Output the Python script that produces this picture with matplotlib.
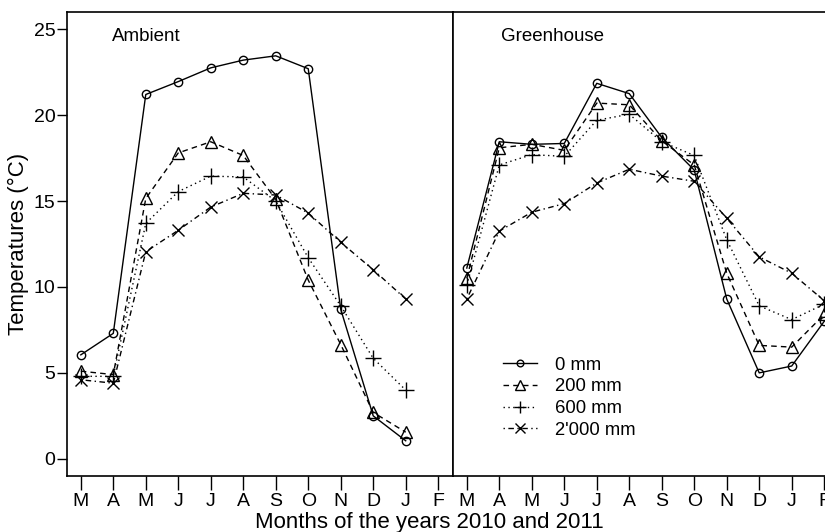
import numpy as np
import matplotlib.pyplot as plt

plt.rcParams['font.family'] = ['Liberation Sans', 'DejaVu Sans']

# months (March 2010 - February 2011)
months = ['M', 'A', 'M', 'J', 'J', 'A', 'S', 'O', 'N', 'D', 'J', 'F']
series_names = ['0 mm', '200 mm', '600 mm', "2'000 mm"]

# Ambient: March .. January (11 values)
amb_0 = [6.05, 7.3, 21.2, 21.95, 22.75, 23.2, 23.45, 22.7, 8.7, 2.5, 1.05]
amb_200 = [5.1, 4.9, 15.15, 17.8, 18.45, 17.65, 15.1, 10.4, 6.65, 2.7, 1.55]
amb_600 = [4.8, 4.8, 13.7, 15.55, 16.45, 16.4, 15.0, 11.7, 8.9, 5.85, 4.0]
amb_2000 = [4.6, 4.4, 12.05, 13.3, 14.65, 15.45, 15.35, 14.3, 12.6, 11.0, 9.3]

# Greenhouse: March .. February (12 values)
gh_0 = [11.1, 18.45, 18.3, 18.35, 21.85, 21.25, 18.7, 16.8, 9.3, 5.0, 5.4, 8.0]
gh_200 = [10.5, 18.1, 18.3, 17.95, 20.7, 20.6, 18.5, 17.1, 10.8, 6.6, 6.5, 8.4]
gh_600 = [10.1, 17.1, 17.7, 17.6, 19.7, 20.05, 18.45, 17.65, 12.75, 8.9, 8.1, 9.0]
gh_2000 = [9.3, 13.25, 14.35, 14.85, 16.05, 16.85, 16.45, 16.15, 14.0, 11.75, 10.8, 9.2]

styles = [
    dict(ls='-', marker='o', ms=6),
    dict(ls=(0, (4, 3)), marker='^', ms=9),
    dict(ls=(0, (1, 2.5)), marker='+', ms=11),
    dict(ls=(0, (1, 2.5, 4, 2.5)), marker='x', ms=9),
]

fig = plt.figure(figsize=(8.25, 5.32), dpi=100)
w = (452.5 - 66.5) / 825
ax1 = fig.add_axes([66.5 / 825, 56 / 532, w, 464 / 532])
ax2 = fig.add_axes([452.5 / 825, 56 / 532, w, 464 / 532])

x = np.arange(1, 13)

for ax, data in [(ax1, [amb_0, amb_200, amb_600, amb_2000]),
                 (ax2, [gh_0, gh_200, gh_600, gh_2000])]:
    for vals, st, name in zip(data, styles, series_names):
        ax.plot(x[:len(vals)], vals, color='black', lw=1.0, ls=st['ls'],
                marker=st['marker'], ms=st['ms'], mfc='none', mec='black',
                mew=1.0, label=name)
    ax.set_xlim(0.56, 12.44)
    ax.set_ylim(-1, 26)
    ax.set_xticks(x)
    ax.set_xticklabels(months, fontsize=14)
    ax.tick_params(axis='x', length=10, width=1, pad=2, direction='out')
    for s in ax.spines.values():
        s.set_linewidth(1.2)

ax1.set_yticks([0, 5, 10, 15, 20, 25])
ax1.tick_params(axis='y', length=7, width=1, labelsize=14, pad=1)
ax1.set_ylabel('Temperatures (°C)', fontsize=16, labelpad=3)
ax2.tick_params(axis='y', left=False, labelleft=False)

ax1.text(1.97, 24.6, 'Ambient', fontsize=13.5, va='center', ha='left')
ax2.text(2.05, 24.6, 'Greenhouse', fontsize=13.5, va='center', ha='left')

leg = ax2.legend(loc='upper left', bbox_to_anchor=(0.131, 0.257), frameon=False,
                 fontsize=13.3, handlelength=1.85, handletextpad=0.95,
                 labelspacing=0.25, borderaxespad=0, borderpad=0,
                 markerscale=0.8)

fig.text(429 / 825, 4 / 532, 'Months of the years 2010 and 2011', fontsize=16,
         ha='center', va='baseline')

fig.savefig('out.png', dpi=100)
